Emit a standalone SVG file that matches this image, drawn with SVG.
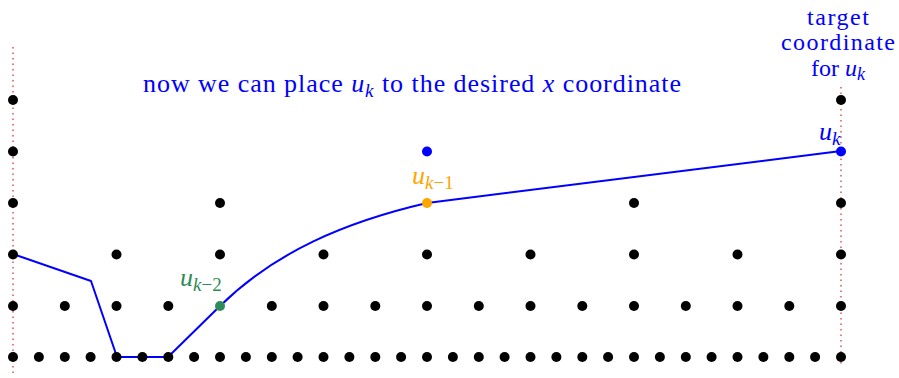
<svg xmlns="http://www.w3.org/2000/svg" width="899" height="378" viewBox="0 0 899 378">
<style>
.d{fill:#000}
.t{font-family:"Liberation Serif","DejaVu Serif",serif;font-size:26px}
.s{font-size:24px}
.i{font-style:italic}
.guide{stroke:#d62728;stroke-width:1.2;stroke-dasharray:1.5 4;fill:none}
.path{stroke:#0000ff;stroke-width:2;fill:none;stroke-linejoin:round}
</style>
<rect width="899" height="378" fill="#fff"/>
<g id="guides">
<line class="guide" x1="13" y1="47" x2="13" y2="373"/>
<line class="guide" x1="841" y1="87" x2="841" y2="367"/>
</g>
<g id="connectors">
<path class="path" d="M13,254 L91,281 L117,357 L168,357 L220,306 C275,252 345,222 427,203 L841,151"/>
</g>
<g id="dots">
<g id="row0">
<circle class="d" cx="13" cy="357" r="5"/><circle class="d" cx="38.9" cy="357" r="5"/><circle class="d" cx="64.8" cy="357" r="5"/><circle class="d" cx="90.6" cy="357" r="5"/><circle class="d" cx="116.5" cy="357" r="5"/><circle class="d" cx="142.4" cy="357" r="5"/><circle class="d" cx="168.3" cy="357" r="5"/><circle class="d" cx="194.1" cy="357" r="5"/><circle class="d" cx="220" cy="357" r="5"/><circle class="d" cx="245.9" cy="357" r="5"/><circle class="d" cx="271.8" cy="357" r="5"/><circle class="d" cx="297.6" cy="357" r="5"/><circle class="d" cx="323.5" cy="357" r="5"/><circle class="d" cx="349.4" cy="357" r="5"/><circle class="d" cx="375.3" cy="357" r="5"/><circle class="d" cx="401.1" cy="357" r="5"/><circle class="d" cx="427" cy="357" r="5"/><circle class="d" cx="452.9" cy="357" r="5"/><circle class="d" cx="478.8" cy="357" r="5"/><circle class="d" cx="504.6" cy="357" r="5"/><circle class="d" cx="530.5" cy="357" r="5"/><circle class="d" cx="556.4" cy="357" r="5"/><circle class="d" cx="582.3" cy="357" r="5"/><circle class="d" cx="608.1" cy="357" r="5"/><circle class="d" cx="634" cy="357" r="5"/><circle class="d" cx="659.9" cy="357" r="5"/><circle class="d" cx="685.8" cy="357" r="5"/><circle class="d" cx="711.6" cy="357" r="5"/><circle class="d" cx="737.5" cy="357" r="5"/><circle class="d" cx="763.4" cy="357" r="5"/><circle class="d" cx="789.3" cy="357" r="5"/><circle class="d" cx="815.1" cy="357" r="5"/><circle class="d" cx="841" cy="357" r="5"/>
</g>
<g id="row1">
<circle class="d" cx="13" cy="306" r="5"/><circle class="d" cx="64.8" cy="306" r="5"/><circle class="d" cx="116.5" cy="306" r="5"/><circle class="d" cx="168.3" cy="306" r="5"/><circle cx="220" cy="306" r="5" fill="#2e8b57"/><circle class="d" cx="271.8" cy="306" r="5"/><circle class="d" cx="323.5" cy="306" r="5"/><circle class="d" cx="375.3" cy="306" r="5"/><circle class="d" cx="427" cy="306" r="5"/><circle class="d" cx="478.8" cy="306" r="5"/><circle class="d" cx="530.5" cy="306" r="5"/><circle class="d" cx="582.3" cy="306" r="5"/><circle class="d" cx="634" cy="306" r="5"/><circle class="d" cx="685.8" cy="306" r="5"/><circle class="d" cx="737.5" cy="306" r="5"/><circle class="d" cx="789.3" cy="306" r="5"/><circle class="d" cx="841" cy="306" r="5"/>
</g>
<g id="row2">
<circle class="d" cx="13" cy="254.5" r="5"/><circle class="d" cx="116.5" cy="254.5" r="5"/><circle class="d" cx="220" cy="254.5" r="5"/><circle class="d" cx="323.5" cy="254.5" r="5"/><circle class="d" cx="427" cy="254.5" r="5"/><circle class="d" cx="530.5" cy="254.5" r="5"/><circle class="d" cx="634" cy="254.5" r="5"/><circle class="d" cx="737.5" cy="254.5" r="5"/><circle class="d" cx="841" cy="254.5" r="5"/>
</g>
<g id="row3">
<circle class="d" cx="13" cy="203" r="5"/><circle class="d" cx="220" cy="203" r="5"/><circle cx="427" cy="203" r="5" fill="#ffa500"/><circle class="d" cx="634" cy="203" r="5"/><circle class="d" cx="841" cy="203" r="5"/>
</g>
<g id="row4">
<circle class="d" cx="13" cy="151.5" r="5"/><circle cx="427" cy="151.5" r="5" fill="#0000ff"/><circle cx="841" cy="151.5" r="5" fill="#0000ff"/>
</g>
<g id="row5">
<circle class="d" cx="13" cy="100" r="5"/><circle class="d" cx="841" cy="100" r="5"/>
</g>
</g>
<g id="labels">
<text class="t" x="143" y="92" fill="#0000ff" textLength="538" lengthAdjust="spacing">now we can place <tspan class="i">u</tspan><tspan class="i" font-size="19" dy="5">k</tspan><tspan dy="-5"> to the desired </tspan><tspan class="i">x</tspan> coordinate</text>
<text class="t s" x="838" y="25" fill="#0000ff" text-anchor="middle" textLength="62" lengthAdjust="spacing">target</text>
<text class="t s" x="838" y="50" fill="#0000ff" text-anchor="middle" textLength="114" lengthAdjust="spacing">coordinate</text>
<text class="t s" x="838" y="76" fill="#0000ff" text-anchor="middle">for <tspan class="i">u</tspan><tspan class="i" font-size="18" dy="4">k</tspan></text>
<text class="t" x="819" y="140" fill="#0000ff"><tspan class="i">u</tspan><tspan class="i" font-size="19" dy="5">k</tspan></text>
<text class="t" x="412" y="184" fill="#ffa500"><tspan class="i">u</tspan><tspan font-size="19" dy="5"><tspan class="i">k</tspan>−1</tspan></text>
<text class="t" x="180" y="286" fill="#2e8b57"><tspan class="i">u</tspan><tspan font-size="19" dy="5"><tspan class="i">k</tspan>−2</tspan></text>
</g>
</svg>
